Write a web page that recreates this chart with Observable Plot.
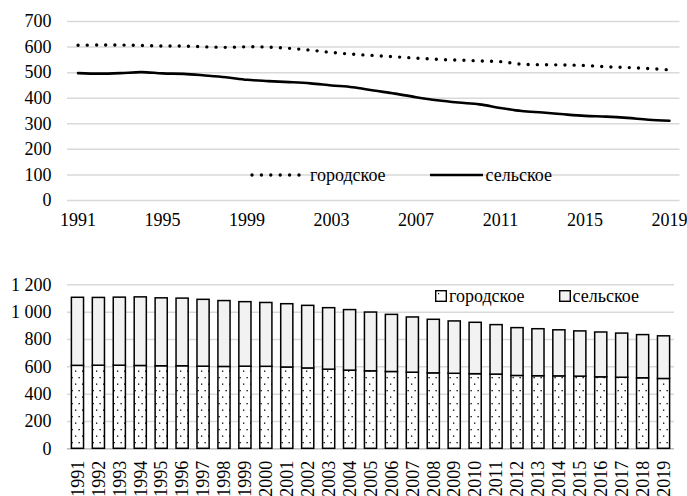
<!DOCTYPE html>
<html><head><meta charset="utf-8">
<script src="https://cdn.jsdelivr.net/npm/d3@7"></script>
<script src="https://cdn.jsdelivr.net/npm/@observablehq/plot@0.6"></script>
<style>
body{margin:0;background:#fff;font-family:'Liberation Serif';}
#wrap{position:relative;width:687px;height:496px;overflow:hidden;background:#fff;font-family:'Liberation Serif';}
#wrap svg{position:absolute;left:0;}
#wrap text{font-family:'Liberation Serif' !important;}
.leg{position:absolute;display:flex;align-items:center;font-size:18px;color:#000;white-space:nowrap;line-height:1;font-family:'Liberation Serif';}
.leg span{display:inline-flex;align-items:center;}
</style></head><body><div id="wrap"></div>
<script>
const years = [1991,1992,1993,1994,1995,1996,1997,1998,1999,2000,2001,2002,2003,2004,2005,2006,2007,2008,2009,2010,2011,2012,2013,2014,2015,2016,2017,2018,2019];
const urban = [607,608,608,606,604,604,601,599,601,600,595,588,579,572,567,562,557,552,549,546,543,533,531,530,528,523,520,516,511];
const rural = [498,496,498,502,497,495,489,482,472,467,463,458,450,443,430,418,404,392,383,376,362,350,344,337,331,328,323,316,312];
const seriesNames = ["городское","сельское"];
const lineXTicks = [1991,1995,1999,2003,2007,2011,2015,2019];
const lineYTicks = [0,100,200,300,400,500,600,700];
const barYTicks = [0,200,400,600,800,1000,1200];

const FONT = "Liberation Serif";
const wrap = document.getElementById("wrap");

const lineRows = [];
years.forEach((y,i)=>{
  lineRows.push({year:y, group:seriesNames[0], value:urban[i]});
  lineRows.push({year:y, group:seriesNames[1], value:rural[i]});
});

function fixFont(svg){
  svg.setAttribute("font-family", FONT);
  svg.style.fontFamily = FONT;
  svg.querySelectorAll("g,text").forEach(n=>{ if(n.hasAttribute("font-family")) n.setAttribute("font-family", FONT); });
}

// ---------- top chart ----------
const topChart = Plot.plot({
  width:687, height:245,
  marginLeft:67, marginRight:7.5, marginTop:21, marginBottom:45,
  style:{fontFamily:FONT, fontSize:"18px", color:"#000", background:"transparent", overflow:"visible"},
  x:{type:"point", domain:years, padding:0.5, round:false},
  y:{domain:[0,700]},
  marks:[
    Plot.gridY(lineYTicks,{stroke:"#d9d9d9", strokeOpacity:1, strokeWidth:1.5}),
    Plot.axisY(lineYTicks,{tickSize:0, tickPadding:16, label:null, fill:"#000", fontFamily:FONT}),
    Plot.axisX(lineXTicks,{tickSize:0, tickPadding:13, label:null, fill:"#000", fontFamily:FONT, tickFormat:d=>String(d)}),
    Plot.line(lineRows.filter(d=>d.group===seriesNames[1]),{x:"year", y:"value", stroke:"#000", strokeWidth:2.6, curve:"catmull-rom"}),
    Plot.line(lineRows.filter(d=>d.group===seriesNames[0]),{x:"year", y:"value", stroke:"#000", strokeWidth:3.4, strokeDasharray:"0 9.2", strokeLinecap:"round", curve:"catmull-rom"})
  ]
});
fixFont(topChart);
topChart.style.top = "0px";
wrap.appendChild(topChart);

const leg1 = document.createElement("div");
leg1.className = "leg";
leg1.style.left = "250px"; leg1.style.top = "166px";
leg1.innerHTML = `<span><svg width="54" height="10" style="position:static"><line x1="2" x2="50" y1="5" y2="5" stroke="#000" stroke-width="3.4" stroke-linecap="round" stroke-dasharray="0 9.4"/></svg><span style="margin-left:6px">${seriesNames[0]}</span></span>
<span style="margin-left:44px"><svg width="53" height="10" style="position:static"><line x1="0" x2="53" y1="5" y2="5" stroke="#000" stroke-width="2.6"/></svg><span style="margin-left:3px">${seriesNames[1]}</span></span>`;
wrap.appendChild(leg1);

// ---------- bottom chart ----------
const barRows = [];
years.forEach((y,i)=>{
  barRows.push({year:y, group:seriesNames[0], value:urban[i]});
  barRows.push({year:y, group:seriesNames[1], value:rural[i]});
});

const bottomChart = Plot.plot({
  width:687, height:251,
  marginLeft:67, marginRight:13, marginTop:39.3, marginBottom:47.7,
  style:{fontFamily:FONT, fontSize:"18px", color:"#000", background:"transparent", overflow:"visible"},
  x:{type:"band", domain:years, paddingInner:0.42, paddingOuter:0.21, round:false},
  y:{domain:[0,1200]},
  color:{domain:seriesNames, range:["url(#dots)","#f2f2f2"]},
  marks:[
    Plot.gridY(barYTicks,{stroke:"#d9d9d9", strokeOpacity:1, strokeWidth:1.5}),
    Plot.ruleY([0],{stroke:"#bfbfbf", strokeWidth:1.5}),
    Plot.axisY(barYTicks,{tickSize:0, tickPadding:16, label:null, fill:"#000", fontFamily:FONT, tickFormat:d=>d3.format(",")(d).replace(","," ")}),
    Plot.axisX(years,{tickSize:0, tickPadding:12, tickRotate:-90, label:null, fill:"#000", fontFamily:FONT, tickFormat:d=>String(d)}),
    Plot.barY(barRows, Plot.stackY({x:"year", y:"value", fill:"group", order:seriesNames, stroke:"#000", strokeWidth:1.5}))
  ]
});
const ns = "http://www.w3.org/2000/svg";
const defs = document.createElementNS(ns,"defs");
defs.innerHTML = `<pattern id="dots" patternUnits="userSpaceOnUse" width="7" height="13"><rect width="7" height="13" fill="#fff"/><rect x="1.5" y="2" width="1.3" height="1.3" fill="#000"/><rect x="5" y="8.5" width="1.3" height="1.3" fill="#000"/></pattern>`;
bottomChart.insertBefore(defs, bottomChart.firstChild);
fixFont(bottomChart);
bottomChart.style.top = "245px";
wrap.appendChild(bottomChart);

const leg2 = document.createElement("div");
leg2.className = "leg";
leg2.style.left = "435px"; leg2.style.top = "287px";
leg2.innerHTML = `<span><svg width="12" height="12" style="position:static"><rect x="0.7" y="0.7" width="10.6" height="10.6" fill="#fff" stroke="#000" stroke-width="1.4"/><rect x="3" y="3" width="1.2" height="1.2" fill="#000"/></svg><span style="margin-left:2px">${seriesNames[0]}</span></span>
<span style="margin-left:34px"><svg width="12" height="12" style="position:static"><rect x="0.7" y="0.7" width="10.6" height="10.6" fill="#f2f2f2" stroke="#000" stroke-width="1.4"/></svg><span style="margin-left:2px">${seriesNames[1]}</span></span>`;
wrap.appendChild(leg2);
</script>
</body></html>
